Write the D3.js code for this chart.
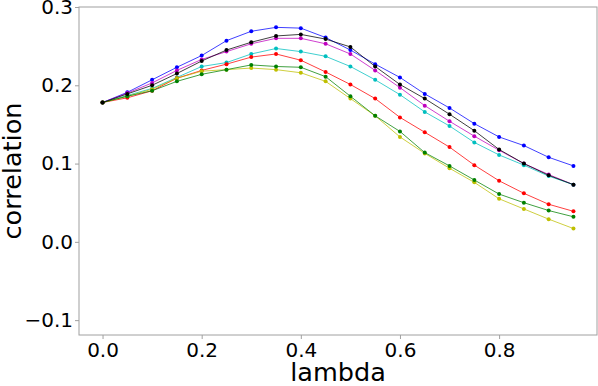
<!DOCTYPE html>
<html><head><meta charset="utf-8">
<script src="https://cdn.jsdelivr.net/npm/d3@7"></script>
<style>body{margin:0;background:#fff}svg{display:block}</style>
</head><body><svg id="c" width="598" height="386"></svg>
<script>
const lambdas = [0,0.05,0.1,0.15,0.2,0.25,0.3,0.35,0.4,0.45,0.5,0.55,0.6,0.65,0.7,0.75,0.8,0.85,0.9,0.95];
const blueVals    = [0.178,0.191,0.207,0.223,0.238,0.257,0.269,0.274,0.273,0.261,0.245,0.227,0.210,0.189,0.171,0.151,0.134,0.123,0.108,0.097];
const magentaVals = [0.178,0.190,0.203,0.219,0.233,0.243,0.253,0.260,0.260,0.253,0.240,0.219,0.197,0.174,0.154,0.135,0.117,0.100,0.086,0.073];
const cyanVals    = [0.178,0.187,0.196,0.210,0.224,0.229,0.240,0.247,0.243,0.237,0.224,0.207,0.188,0.166,0.148,0.127,0.111,0.098,0.084,0.073];
const redVals     = [0.178,0.184,0.193,0.209,0.219,0.227,0.236,0.240,0.232,0.217,0.201,0.183,0.159,0.140,0.121,0.098,0.078,0.062,0.048,0.039];
const yellowVals  = [0.178,0.186,0.195,0.209,0.218,0.220,0.222,0.220,0.216,0.205,0.183,0.161,0.134,0.113,0.094,0.076,0.055,0.042,0.029,0.017];
const greenVals   = [0.178,0.186,0.193,0.205,0.214,0.220,0.226,0.224,0.223,0.211,0.186,0.161,0.141,0.114,0.097,0.079,0.061,0.050,0.040,0.032];
const blackVals   = [0.178,0.189,0.200,0.215,0.231,0.245,0.255,0.263,0.265,0.259,0.249,0.224,0.201,0.183,0.163,0.142,0.118,0.100,0.085,0.073];
const seriesNames = ["blue","magenta","cyan","red","yellow","green","black"];
const seriesVals  = [blueVals,magentaVals,cyanVals,redVals,yellowVals,greenVals,blackVals];
const seriesColors = ["#0000ff","#bf00bf","#00bfbf","#ff0000","#bfbf00","#008000","#000000"];
const xTicks = [0,0.2,0.4,0.6,0.8];
const yTicks = [-0.1,0,0.1,0.2,0.3];
const xLabel = "lambda", yLabel = "correlation";

const svg = d3.select("#c");
const L = 79, R = 597, T = 7, B = 335;
const x = d3.scaleLinear().domain([-0.0475, 0.9975]).range([L, R]);
const y = d3.scaleLinear().domain([-0.119, 0.3]).range([B, T]);
const font = "DejaVu Sans, sans-serif";
const fmt = d => (d < 0 ? "\u2212" : "") + Math.abs(d).toFixed(1);

const xAxis = svg.append("g").attr("transform", `translate(0,${B})`)
  .call(d3.axisBottom(x).tickValues(xTicks).tickSize(4).tickPadding(4).tickFormat(fmt));
const yAxis = svg.append("g").attr("transform", `translate(${L},0)`)
  .call(d3.axisLeft(y).tickValues(yTicks).tickSize(4).tickPadding(2).tickFormat(fmt));
[xAxis, yAxis].forEach(g => {
  g.select(".domain").remove();
  g.selectAll(".tick line").attr("stroke", "#a0a0a0");
  g.selectAll(".tick text").attr("font-family", font).attr("font-size", 20).attr("fill", "#000");
});
svg.append("rect").attr("x", L).attr("y", T).attr("width", R - L).attr("height", B - T)
  .attr("fill", "none").attr("stroke", "#a0a0a0").attr("stroke-width", 1);

const line = d3.line().x((d, i) => x(lambdas[i])).y(d => y(d));
seriesVals.forEach((vals, k) => {
  const g = svg.append("g").attr("class", "series-" + seriesNames[k]);
  g.append("path").attr("d", line(vals)).attr("fill", "none")
    .attr("stroke", seriesColors[k]).attr("stroke-width", 1).attr("stroke-opacity", 0.75);
  g.selectAll("circle").data(vals).join("circle")
    .attr("cx", (d, i) => x(lambdas[i])).attr("cy", d => y(d)).attr("r", 2)
    .attr("fill", seriesColors[k]);
});

svg.append("text").attr("x", (L + R) / 2).attr("y", 381).attr("text-anchor", "middle")
  .attr("font-family", font).attr("font-size", 25.5).text(xLabel);
svg.append("text").attr("transform", `translate(21,${(T + B) / 2}) rotate(-90)`)
  .attr("text-anchor", "middle").attr("font-family", font).attr("font-size", 25.5).text(yLabel);
</script></body></html>
